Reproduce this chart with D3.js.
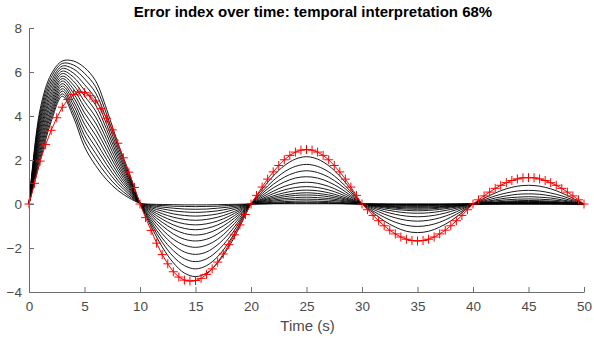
<!DOCTYPE html>
<html><head><meta charset="utf-8">
<script src="https://cdn.jsdelivr.net/npm/d3@7/dist/d3.min.js"></script>
<style>
body{margin:0;background:#fff;}
svg{display:block;}
text{font-family:"Liberation Sans",Arial,Helvetica,sans-serif;}
</style>
</head><body>
<svg id="chart" width="594" height="338"></svg>
<script>
const titleText = "Error index over time: temporal interpretation 68%";
const xLabelText = "Time (s)";
const xTickValues = [0,5,10,15,20,25,30,35,40,45,50];
const yTickValues = [-4,-2,0,2,4,6,8];
const blackTimes = d3.range(0, 51, 1);
const redTimes = d3.range(0, 101).map(i => i * 0.5);

const b00 = [0,1.95,3.75,4.90,3.95,2.60,1.75,1.10,0.62,0.28,0.04,
-0.01,-0.02,-0.03,-0.04,-0.04,-0.04,-0.03,-0.02,-0.01,0,
0,0.01,0.01,0.01,0.01,0.01,0.01,0.01,0,0,
0,0,0,0,0,0,0,0,0,0,
0,0,0,0,0,0,0,0,0,0];
const b01 = [0,2.12,3.90,5.01,4.13,2.86,2.03,1.33,0.77,0.36,0.04,
-0.04,-0.07,-0.10,-0.11,-0.12,-0.11,-0.10,-0.07,-0.04,0,
0.01,0.02,0.03,0.04,0.04,0.04,0.03,0.02,0.01,0,
0,-0.01,-0.01,-0.01,-0.01,-0.01,-0.01,-0.01,0,0,
0,0,0,0,0,0,0,0,0,0];
const b02 = [0,2.29,4.06,5.13,4.31,3.11,2.30,1.56,0.93,0.45,0.04,
-0.07,-0.14,-0.19,-0.23,-0.24,-0.23,-0.19,-0.14,-0.07,0,
0.02,0.05,0.06,0.08,0.08,0.08,0.06,0.05,0.02,0,
-0.01,-0.01,-0.02,-0.02,-0.02,-0.02,-0.02,-0.01,-0.01,0,
0,0.01,0.01,0.01,0.01,0.01,0.01,0.01,0,0];
const b03 = [0,2.45,4.21,5.24,4.50,3.37,2.58,1.79,1.08,0.53,0.04,
-0.12,-0.22,-0.31,-0.36,-0.38,-0.36,-0.31,-0.22,-0.12,0,
0.04,0.08,0.11,0.13,0.14,0.13,0.11,0.08,0.04,0,
-0.01,-0.02,-0.03,-0.04,-0.04,-0.04,-0.03,-0.02,-0.01,0,
0.01,0.01,0.02,0.02,0.02,0.02,0.02,0.01,0.01,0];
const b04 = [0,2.62,4.36,5.36,4.68,3.63,2.85,2.01,1.24,0.61,0.04,
-0.17,-0.32,-0.45,-0.52,-0.55,-0.52,-0.45,-0.32,-0.17,0,
0.07,0.13,0.18,0.21,0.22,0.21,0.18,0.13,0.07,0,
-0.02,-0.04,-0.06,-0.07,-0.07,-0.07,-0.06,-0.04,-0.02,0,
0.01,0.02,0.02,0.03,0.03,0.03,0.02,0.02,0.01,0];
const b05 = [0,2.79,4.52,5.47,4.86,3.89,3.13,2.24,1.39,0.70,0.04,
-0.23,-0.44,-0.60,-0.70,-0.74,-0.70,-0.60,-0.44,-0.23,0,
0.10,0.18,0.25,0.29,0.31,0.29,0.25,0.18,0.10,0,
-0.03,-0.06,-0.09,-0.10,-0.11,-0.10,-0.09,-0.06,-0.03,0,
0.02,0.03,0.04,0.05,0.05,0.05,0.04,0.03,0.02,0];
const b06 = [0,2.96,4.67,5.59,5.04,4.14,3.40,2.47,1.55,0.78,0.04,
-0.29,-0.56,-0.77,-0.90,-0.95,-0.90,-0.77,-0.56,-0.29,0,
0.13,0.24,0.33,0.39,0.41,0.39,0.33,0.24,0.13,0,
-0.05,-0.09,-0.12,-0.14,-0.15,-0.14,-0.12,-0.09,-0.05,0,
0.02,0.04,0.06,0.07,0.07,0.07,0.06,0.04,0.02,0];
const b07 = [0,3.13,4.83,5.70,5.23,4.40,3.68,2.70,1.70,0.87,0.04,
-0.36,-0.69,-0.95,-1.11,-1.17,-1.11,-0.95,-0.69,-0.36,0,
0.16,0.30,0.41,0.48,0.51,0.48,0.41,0.30,0.16,0,
-0.06,-0.11,-0.15,-0.18,-0.19,-0.18,-0.15,-0.11,-0.06,0,
0.03,0.05,0.07,0.09,0.09,0.09,0.07,0.05,0.03,0];
const b08 = [0,3.29,4.98,5.81,5.41,4.66,3.95,2.93,1.85,0.95,0.04,
-0.44,-0.83,-1.14,-1.34,-1.41,-1.34,-1.14,-0.83,-0.44,0,
0.20,0.37,0.51,0.60,0.63,0.60,0.51,0.37,0.20,0,
-0.07,-0.14,-0.19,-0.23,-0.24,-0.23,-0.19,-0.14,-0.07,0,
0.04,0.07,0.10,0.11,0.12,0.11,0.10,0.07,0.04,0];
const b09 = [0,3.46,5.13,5.93,5.59,4.91,4.23,3.16,2.01,1.03,0.04,
-0.52,-0.99,-1.36,-1.60,-1.68,-1.60,-1.36,-0.99,-0.52,0,
0.24,0.47,0.64,0.75,0.79,0.75,0.64,0.47,0.24,0,
-0.10,-0.18,-0.25,-0.29,-0.31,-0.29,-0.25,-0.18,-0.10,0,
0.05,0.09,0.13,0.15,0.16,0.15,0.13,0.09,0.05,0];
const b10 = [0,3.63,5.29,6.04,5.77,5.17,4.50,3.39,2.16,1.12,0.04,
-0.61,-1.16,-1.60,-1.87,-1.97,-1.87,-1.60,-1.16,-0.61,0,
0.31,0.58,0.80,0.94,0.99,0.94,0.80,0.58,0.31,0,
-0.13,-0.25,-0.34,-0.40,-0.42,-0.40,-0.34,-0.25,-0.13,0,
0.07,0.14,0.19,0.22,0.23,0.22,0.19,0.14,0.07,0];
const b11 = [0,3.80,5.44,6.16,5.95,5.43,4.78,3.61,2.32,1.20,0.04,
-0.71,-1.35,-1.85,-2.18,-2.29,-2.18,-1.85,-1.35,-0.71,0,
0.38,0.73,1.00,1.18,1.24,1.18,1.00,0.73,0.38,0,
-0.18,-0.34,-0.47,-0.55,-0.58,-0.55,-0.47,-0.34,-0.18,0,
0.10,0.19,0.27,0.31,0.33,0.31,0.27,0.19,0.10,0];
const b12 = [0,3.96,5.59,6.27,6.14,5.69,5.05,3.84,2.47,1.28,0.04,
-0.81,-1.55,-2.12,-2.49,-2.62,-2.49,-2.12,-1.55,-0.81,0,
0.47,0.89,1.22,1.43,1.51,1.43,1.22,0.89,0.47,0,
-0.24,-0.46,-0.63,-0.74,-0.78,-0.74,-0.63,-0.46,-0.24,0,
0.14,0.27,0.37,0.44,0.46,0.44,0.37,0.27,0.14,0];
const b13 = [0,4.13,5.75,6.39,6.32,5.94,5.33,4.07,2.63,1.37,0.03,
-0.91,-1.74,-2.39,-2.80,-2.95,-2.80,-2.39,-1.74,-0.91,0,
0.56,1.06,1.46,1.71,1.80,1.71,1.46,1.06,0.56,0,
-0.32,-0.60,-0.83,-0.97,-1.02,-0.97,-0.83,-0.60,-0.32,0,
0.19,0.37,0.50,0.59,0.62,0.59,0.50,0.37,0.19,0];
const b14 = [0,4.30,5.90,6.50,6.50,6.20,5.60,4.30,2.78,1.45,0.03,
-1.02,-1.95,-2.67,-3.14,-3.30,-3.14,-2.67,-1.95,-1.02,0,
0.67,1.27,1.74,2.04,2.15,2.04,1.74,1.27,0.67,0,
-0.40,-0.77,-1.05,-1.24,-1.30,-1.24,-1.05,-0.77,-0.40,0,
0.26,0.50,0.69,0.81,0.85,0.81,0.69,0.50,0.26,0];
const blackSeries = [b00,b01,b02,b03,b04,b05,b06,b07,b08,b09,b10,b11,b12,b13,b14];

const redValues = [0,0.94,1.95,2.70,3.35,3.92,4.40,4.75,4.98,5.10,5.06,4.92,4.68,4.33,3.90,3.37,2.76,2.10,1.45,0.75,
0,
-0.62,-1.20,-1.78,-2.30,-2.72,-3.08,-3.32,-3.46,-3.50,-3.48,-3.38,-3.20,-2.95,-2.64,-2.27,-1.85,-1.40,-0.95,-0.48,
0,
0.39,0.77,1.13,1.46,1.75,2.01,2.21,2.36,2.45,2.48,2.45,2.36,2.21,2.01,1.75,1.46,1.13,0.77,0.39,
0,
-0.26,-0.52,-0.76,-0.99,-1.19,-1.36,-1.50,-1.60,-1.66,-1.68,-1.66,-1.60,-1.50,-1.36,-1.19,-0.99,-0.76,-0.52,-0.26,
0,
0.19,0.37,0.54,0.71,0.85,0.97,1.07,1.14,1.19,1.20,1.19,1.14,1.07,0.97,0.85,0.71,0.54,0.37,0.19,
0];

const svg = d3.select("#chart");
const x = d3.scaleLinear().domain([0, 50]).range([29, 584]);
const y = d3.scaleLinear().domain([-4, 8]).range([292, 28]);
const axisColor = "#6e6e6e";
const textColor = "#4a4a4a";

// black family
const blackLine = d3.line().x((d,i) => x(blackTimes[i])).y(d => y(d)).curve(d3.curveCatmullRom.alpha(0.5));
svg.append("g").selectAll("path").data(blackSeries).join("path")
  .attr("d", d => blackLine(d))
  .attr("fill", "none").attr("stroke", "#000").attr("stroke-width", 0.9);

// red series
const redLine = d3.line().x((d,i) => x(redTimes[i])).y(d => y(d));
svg.append("path").attr("d", redLine(redValues))
  .attr("fill", "none").attr("stroke", "#ff0000").attr("stroke-width", 1);
const m = 4.5;
svg.append("g").selectAll("path").data(redValues).join("path")
  .attr("d", (d,i) => {
    const cx = x(redTimes[i]), cy = y(d);
    return `M${cx-m},${cy}H${cx+m}M${cx},${cy-m}V${cy+m}`;
  })
  .attr("stroke", "#ff0000").attr("stroke-width", 1).attr("fill", "none");

// axes
const xAxis = d3.axisBottom(x).tickValues(xTickValues).tickSizeInner(-5).tickSizeOuter(0).tickPadding(9);
const gx = svg.append("g").attr("transform", "translate(0,292)").call(xAxis);
const yAxis = d3.axisLeft(y).tickValues(yTickValues).tickSizeInner(-5).tickSizeOuter(0).tickPadding(7);
const gy = svg.append("g").attr("transform", "translate(29,0)").call(yAxis);
[gx, gy].forEach(g => {
  g.select(".domain").attr("stroke", axisColor);
  g.selectAll(".tick line").attr("stroke", axisColor);
  g.selectAll(".tick text").attr("fill", textColor).style("font-size", "13.5px")
    .style("font-family", "'Liberation Sans', Arial, sans-serif");
});

svg.append("text").attr("x", 307.5).attr("y", 331).attr("text-anchor", "middle")
  .attr("fill", textColor).style("font-size", "15px").text(xLabelText);
svg.append("text").attr("x", 313).attr("y", 17).attr("text-anchor", "middle")
  .attr("fill", "#000").style("font-size", "15px").style("font-weight", "bold").text(titleText);
</script>
</body></html>
